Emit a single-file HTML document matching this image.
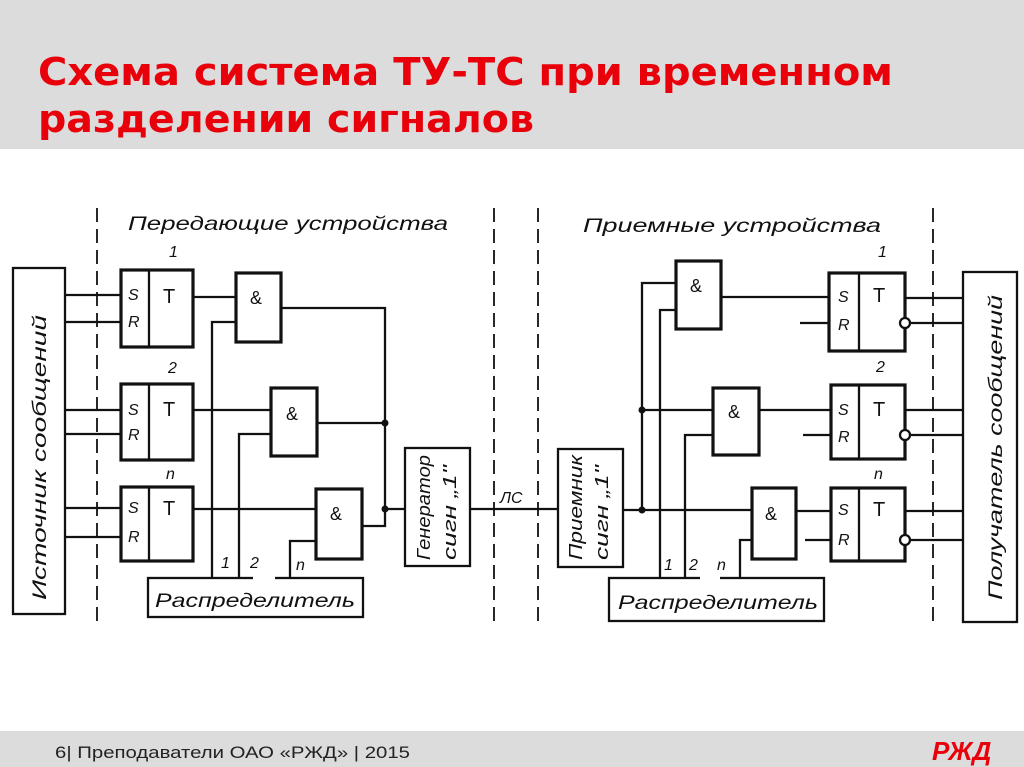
<!DOCTYPE html>
<html><head><meta charset="utf-8"><style>
html,body{margin:0;padding:0;background:#fff;}
body{width:1024px;height:767px;overflow:hidden;position:relative;}
.hdr{position:absolute;left:0;top:0;width:1024px;height:149px;background:#dcdcdc;}
.ftr{position:absolute;left:0;top:731px;width:1024px;height:36px;background:#dcdcdc;}
svg{position:absolute;left:0;top:0;}
</style></head><body>
<div class="hdr"></div><div class="ftr"></div>
<svg width="1024" height="767" viewBox="0 0 1024 767">
<g font-family="DejaVu Sans, Liberation Sans, sans-serif" font-weight="bold" fill="#e8000b" font-size="38">
<text x="38" y="85" textLength="855" lengthAdjust="spacingAndGlyphs">Схема система ТУ-ТС при временном</text>
<text x="38" y="132" textLength="496" lengthAdjust="spacingAndGlyphs">разделении сигналов</text>
</g>
<text x="55" y="758" font-family="Liberation Sans, sans-serif" font-size="17" fill="#222" textLength="355" lengthAdjust="spacingAndGlyphs">6|  Преподаватели ОАО «РЖД»  |  2015</text>
<text x="932" y="760" font-family="Liberation Sans, sans-serif" font-weight="bold" font-style="italic" font-size="26" fill="#e8000b">РЖД</text>

<g stroke="#111" stroke-width="2.3" fill="none">
<g stroke-dasharray="14,7" stroke-width="1.8">
<line x1="97" y1="208" x2="97" y2="622"/>
<line x1="494" y1="208" x2="494" y2="622"/>
<line x1="538" y1="208" x2="538" y2="622"/>
<line x1="933" y1="208" x2="933" y2="622"/>
</g>
<rect x="13" y="268" width="52" height="346"/>
<g stroke-width="3.2">
<rect x="121" y="270" width="72" height="77"/><rect x="121" y="384" width="72" height="76"/><rect x="121" y="487" width="72" height="74"/>
<rect x="236" y="273" width="45" height="69"/><rect x="271" y="388" width="46" height="68"/><rect x="316" y="489" width="46" height="70"/>
</g>
<line x1="149" y1="270" x2="149" y2="347"/><line x1="149" y1="384" x2="149" y2="460"/><line x1="149" y1="487" x2="149" y2="561"/>
<rect x="405" y="448" width="65" height="118"/>
<rect x="148" y="578" width="215" height="39"/>
<path d="M65 295H121M65 322H121M65 410H121M65 434H121M65 508H121M65 537H121"/>
<path d="M193 297H236M193 410H271M193 509H316"/>
<path d="M212 578V322H236M239 578V434H271M290 578V541H316"/>
<path d="M281 308H385V526H362M317 423H385"/>
<path d="M385 509H405M470 509H558"/>
<path d="M253 578H275" stroke="#fff" stroke-width="3"/>
<rect x="558" y="449" width="65" height="118"/>
<rect x="609" y="578" width="215" height="43"/>
<rect x="963" y="272" width="54" height="350"/>
<g stroke-width="3.2">
<rect x="676" y="261" width="45" height="68"/><rect x="713" y="388" width="46" height="67"/><rect x="752" y="488" width="44" height="71"/>
<rect x="829" y="273" width="76" height="78"/><rect x="831" y="385" width="74" height="74"/><rect x="831" y="488" width="74" height="73"/>
</g>
<line x1="859" y1="273" x2="859" y2="351"/><line x1="859" y1="385" x2="859" y2="459"/><line x1="859" y1="488" x2="859" y2="561"/>
<path d="M623 510H752M642 510V283H676M642 410H713M660 578V310H676M685 578V435H713M740 578V540H752"/>
<path d="M721 297H829M759 410H831M796 511H831"/>
<path d="M800 323H829M803 435H831M805 540H831"/>
<path d="M905 298H963M911 323H963M905 410H963M911 435H963M905 511H963M911 540H963"/>
<path d="M700 578H720" stroke="#fff" stroke-width="3"/>
<circle cx="905" cy="323" r="5" fill="#fff"/><circle cx="905" cy="435" r="5" fill="#fff"/><circle cx="905" cy="540" r="5" fill="#fff"/>
</g>
<g fill="#111"><circle cx="385" cy="423" r="3.5"/><circle cx="385" cy="509" r="3.5"/><circle cx="642" cy="410" r="3.5"/><circle cx="642" cy="510" r="3.5"/></g>

<g font-family="Liberation Sans, sans-serif" font-style="italic" fill="#111" font-size="16">
<text x="128" y="230" font-size="19" textLength="320" lengthAdjust="spacingAndGlyphs">Передающие устройства</text>
<text x="583" y="232" font-size="19" textLength="298" lengthAdjust="spacingAndGlyphs">Приемные устройства</text>
<text x="169" y="257">1</text><text x="168" y="373">2</text><text x="166" y="479">n</text>
<text x="878" y="257">1</text><text x="876" y="372">2</text><text x="874" y="479">n</text>
<text x="128" y="300">S</text><text x="128" y="327">R</text>
<text x="128" y="415">S</text><text x="128" y="440">R</text>
<text x="128" y="513">S</text><text x="128" y="542">R</text>
<text x="838" y="302">S</text><text x="838" y="330">R</text>
<text x="838" y="415">S</text><text x="838" y="442">R</text>
<text x="838" y="515">S</text><text x="838" y="545">R</text>
<text x="221" y="568">1</text><text x="250" y="568">2</text><text x="296" y="570">n</text>
<text x="664" y="570">1</text><text x="689" y="570">2</text><text x="717" y="570">n</text>
<text x="500" y="503">ЛС</text>
<text x="155" y="607" font-size="19" textLength="200" lengthAdjust="spacingAndGlyphs">Распределитель</text>
<text x="618" y="609" font-size="19" textLength="200" lengthAdjust="spacingAndGlyphs">Распределитель</text>
<text transform="translate(46,600) rotate(-90)" font-size="19" textLength="285" lengthAdjust="spacingAndGlyphs">Источник сообщений</text>
<text transform="translate(1002,600) rotate(-90)" font-size="19" textLength="305" lengthAdjust="spacingAndGlyphs">Получатель сообщений</text>
<text transform="translate(430,560) rotate(-90)" font-size="18" textLength="105" lengthAdjust="spacingAndGlyphs">Генератор</text>
<text transform="translate(456,560) rotate(-90)" font-size="18" textLength="95" lengthAdjust="spacingAndGlyphs">сигн „1"</text>
<text transform="translate(582,560) rotate(-90)" font-size="18" textLength="105" lengthAdjust="spacingAndGlyphs">Приемник</text>
<text transform="translate(608,560) rotate(-90)" font-size="18" textLength="95" lengthAdjust="spacingAndGlyphs">сигн „1"</text>
</g>
<g font-family="Liberation Sans, sans-serif" fill="#111" font-size="20">
<text x="163" y="303">T</text><text x="163" y="416">T</text><text x="163" y="515">T</text>
<text x="873" y="302">T</text><text x="873" y="416">T</text><text x="873" y="516">T</text>
<text x="250" y="304" font-size="18">&amp;</text><text x="286" y="420" font-size="18">&amp;</text><text x="330" y="520" font-size="18">&amp;</text>
<text x="690" y="292" font-size="18">&amp;</text><text x="728" y="418" font-size="18">&amp;</text><text x="765" y="520" font-size="18">&amp;</text>
</g>
</svg>
</body></html>
